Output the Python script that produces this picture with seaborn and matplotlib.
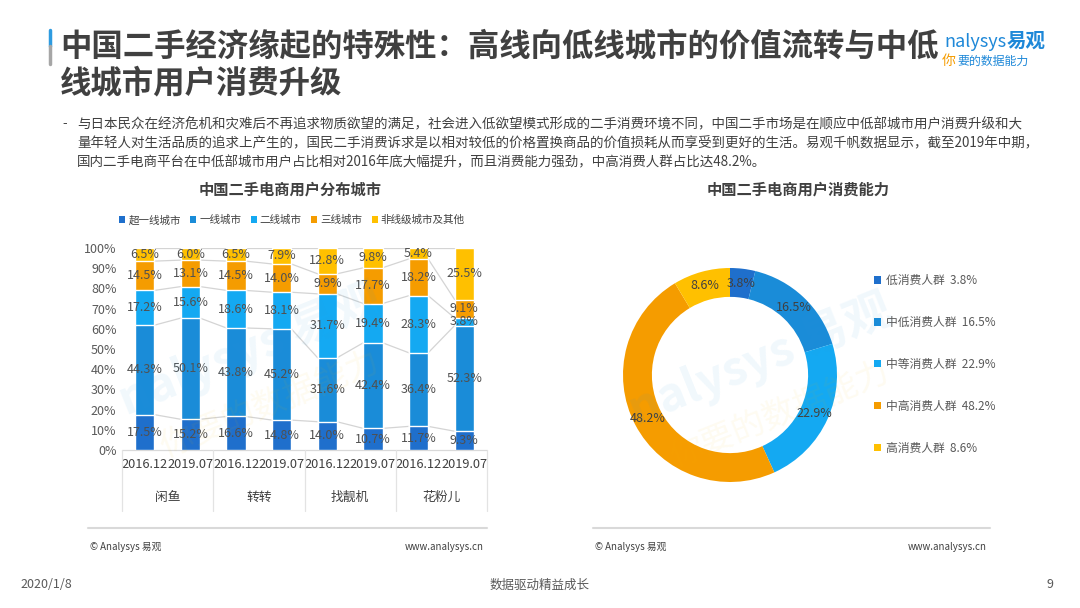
import numpy as np
import pandas as pd
import matplotlib
matplotlib.use("Agg")
import matplotlib.pyplot as plt
from matplotlib.patches import Patch
import seaborn as sns

sns.set_theme(style="white")
plt.rcParams['font.family'] = ['Noto Sans CJK SC', 'DejaVu Sans']

# ---- data ----
platforms = ["闲鱼", "转转", "找靓机", "花粉儿"]
periods = ["2016.12", "2019.07"]
city_tiers = ["超一线城市", "一线城市", "二线城市", "三线城市", "非线级城市及其他"]
# one list per tier, bar order: 闲鱼16, 闲鱼19, 转转16, 转转19, 找靓机16, 找靓机19, 花粉儿16, 花粉儿19
tier_super = [17.5, 15.2, 16.6, 14.8, 14.0, 10.7, 11.7, 9.3]
tier_1 = [44.3, 50.1, 43.8, 45.2, 31.6, 42.4, 36.4, 52.3]
tier_2 = [17.2, 15.6, 18.6, 18.1, 31.7, 19.4, 28.3, 3.8]
tier_3 = [14.5, 13.1, 14.5, 14.0, 9.9, 17.7, 18.2, 9.1]
tier_other = [6.5, 6.0, 6.5, 7.9, 12.8, 9.8, 5.4, 25.5]

spend_groups = ["低消费人群", "中低消费人群", "中等消费人群", "中高消费人群", "高消费人群"]
spend_share = [3.8, 16.5, 22.9, 48.2, 8.6]

colors = ["#1F6FCC", "#1A8CD8", "#14A9F2", "#F59C00", "#FFC000"]
txt = "#404040"

fig = plt.figure(figsize=(10.8, 6.08), dpi=100)

def fx(px):
    return px / 1080

def fy(py):
    return 1 - py / 608

# ---- header ----
fig.add_artist(plt.Line2D([fx(50), fx(50)], [fy(30), fy(46)], color="#2E9BE0", lw=2.5))
fig.add_artist(plt.Line2D([fx(50), fx(50)], [fy(46), fy(64)], color="#A6A6A6", lw=2.5))
fig.text(fx(60), fy(47), "中国二手经济缘起的特殊性：高线向低线城市的价值流转与中低",
         fontsize=22.6, fontweight="bold", color=txt, va="center", ha="left")
fig.text(fx(60), fy(83), "线城市用户消费升级",
         fontsize=22.6, fontweight="bold", color=txt, va="center", ha="left")
# logo
fig.text(fx(944), fy(42), "nalysys", fontsize=13, color="#1E88D8", va="center", ha="left")
fig.text(fx(1007), fy(41), "易观", fontsize=14, fontweight="bold", color="#1E88D8", va="center", ha="left")
fig.text(fx(942), fy(61), "你", fontsize=10, color="#F59C00", style="italic", va="center", ha="left")
fig.text(fx(957), fy(61), "要的数据能力", fontsize=8.6, color="#1E88D8", style="italic", va="center", ha="left")

body = ["与日本民众在经济危机和灾难后不再追求物质欲望的满足，社会进入低欲望模式形成的二手消费环境不同，中国二手市场是在顺应中低部城市用户消费升级和大",
        "量年轻人对生活品质的追求上产生的，国民二手消费诉求是以相对较低的价格置换商品的价值损耗从而享受到更好的生活。易观千帆数据显示，截至2019年中期，",
        "国内二手电商平台在中低部城市用户占比相对2016年底大幅提升，而且消费能力强劲，中高消费人群占比达48.2%。"]
fig.text(fx(62), fy(124), "-", fontsize=9.5, color=txt, va="center")
for i, line in enumerate(body):
    fig.text(fx(77), fy(124 + 19 * i), line, fontsize=9.72, color=txt, va="center", ha="left")

# ---- stacked bar chart ----
ax = fig.add_axes([fx(122), fy(450), fx(487 - 122), (450 - 248) / 608])
keys = [f"{p} {t}" for p in platforms for t in periods]
layers = np.array([tier_super, tier_1, tier_2, tier_3, tier_other])
cum = layers.cumsum(axis=0)
bw = 0.42
for k in reversed(range(5)):
    df = pd.DataFrame({"bar": keys, "value": cum[k]})
    sns.barplot(data=df, x="bar", y="value", order=keys, color=colors[k], saturation=1,
                width=bw, errorbar=None, ax=ax, zorder=2)
# series lines
for k in range(5):
    for i in range(len(keys) - 1):
        ax.plot([i + bw / 2, i + 1 - bw / 2], [cum[k][i], cum[k][i + 1]],
                color="#D4D4D4", lw=0.9, zorder=1)
# segment labels
for k in range(5):
    for i in range(len(keys)):
        mid = cum[k][i] - layers[k][i] / 2
        ax.text(i, mid, f"{layers[k][i]:.1f}%", ha="center", va="center",
                fontsize=9, color="#505050", zorder=3)
ax.set_ylim(0, 100)
ax.set_xlim(-0.5, 7.5)
ax.set_yticks(range(0, 101, 10))
ax.set_yticklabels([f"{v}%" for v in range(0, 101, 10)], fontsize=9, color="#595959")
ax.set_xticks(range(len(keys)))
ax.set_xticklabels(periods * 4, fontsize=9.2, color=txt)
ax.tick_params(axis="x", length=0, pad=6)
ax.tick_params(axis="y", length=0, pad=4)
ax.set_xlabel("")
ax.set_ylabel("")
for s in ax.spines.values():
    s.set_visible(False)
ax.plot([-0.5, 7.5], [0, 0], color="#D9D9D9", lw=0.9, clip_on=False, zorder=1)
for xs in [-0.5, 1.5, 3.5, 5.5, 7.5]:
    ax.plot([xs, xs], [0, -30], color="#E3E3E3", lw=0.9, clip_on=False)
for j, p in enumerate(platforms):
    ax.text(2 * j + 0.5, -23.3, p, ha="center", va="center", fontsize=9.2, color=txt)

fig.text(fx(290), fy(190), "中国二手电商用户分布城市", fontsize=11, fontweight="bold",
         color=txt, ha="center", va="center")
bar_handles = [Patch(facecolor=c, edgecolor="none") for c in colors]
fig.legend(bar_handles, city_tiers, loc="center", bbox_to_anchor=(fx(292), fy(220)),
           ncol=5, frameon=False, fontsize=7.6, handlelength=0.55, handleheight=0.55,
           handletextpad=0.3, columnspacing=0.9, borderpad=0, labelcolor=txt)

# ---- donut chart ----
ax2 = fig.add_axes([fx(730 - 107), fy(375 + 107), fx(214), 214 / 608])
ax2.pie(spend_share, colors=colors, startangle=90, counterclock=False, radius=1,
        wedgeprops=dict(width=0.27, edgecolor="none"))
ang0 = 90
for v in spend_share:
    mid = np.deg2rad(ang0 - v / 100 * 360 / 2)
    ax2.text(0.865 * np.cos(mid), 0.865 * np.sin(mid), f"{v:.1f}%", ha="center", va="center",
             fontsize=9, color=txt)
    ang0 -= v / 100 * 360
ax2.set_xlim(-1, 1)
ax2.set_ylim(-1, 1)
ax2.set_aspect("equal")
ax2.axis("off")

fig.text(fx(798), fy(190), "中国二手电商用户消费能力", fontsize=11, fontweight="bold",
         color=txt, ha="center", va="center")
donut_labels = [f"{g}  {v:.1f}%" for g, v in zip(spend_groups, spend_share)]
fig.legend(bar_handles, donut_labels, loc="upper left", bbox_to_anchor=(fx(874), fy(274)),
           frameon=False, fontsize=8.5, handlelength=0.6, handleheight=0.6,
           handletextpad=0.45, labelspacing=2.45, borderpad=0, borderaxespad=0,
           labelcolor="#595959")

# ---- watermarks ----
for (x0, y0) in [(250, 350), (760, 360)]:
    fig.text(fx(x0), fy(y0), "nalysys 易观", fontsize=34, fontweight="bold", color="#2E9BE0",
             alpha=0.07, rotation=22, ha="center", va="center")
    fig.text(fx(x0 + 20), fy(y0 + 55), "你要的数据能力", fontsize=24, color="#F5B800",
             alpha=0.06, rotation=22, ha="center", va="center", style="italic")

# ---- footers ----
for (l, r) in [(88, 487), (593, 990)]:
    fig.add_artist(plt.Line2D([fx(l), fx(r)], [fy(528), fy(528)], color="#D9D9D9", lw=1.5))
    fig.text(fx(l + 2), fy(547), "© Analysys 易观", fontsize=7, color=txt, va="center", ha="left")
    fig.text(fx(r - 3), fy(547), "www.analysys.cn", fontsize=7, color=txt, va="center", ha="right")

fig.text(fx(20), fy(585), "2020/1/8", fontsize=9, color="#595959", va="center", ha="left")
fig.text(fx(540), fy(585), "数据驱动精益成长", fontsize=9, color="#595959", va="center", ha="center")
fig.text(fx(1053), fy(585), "9", fontsize=9, color="#595959", va="center", ha="right")

fig.savefig("out.png", dpi=100)
